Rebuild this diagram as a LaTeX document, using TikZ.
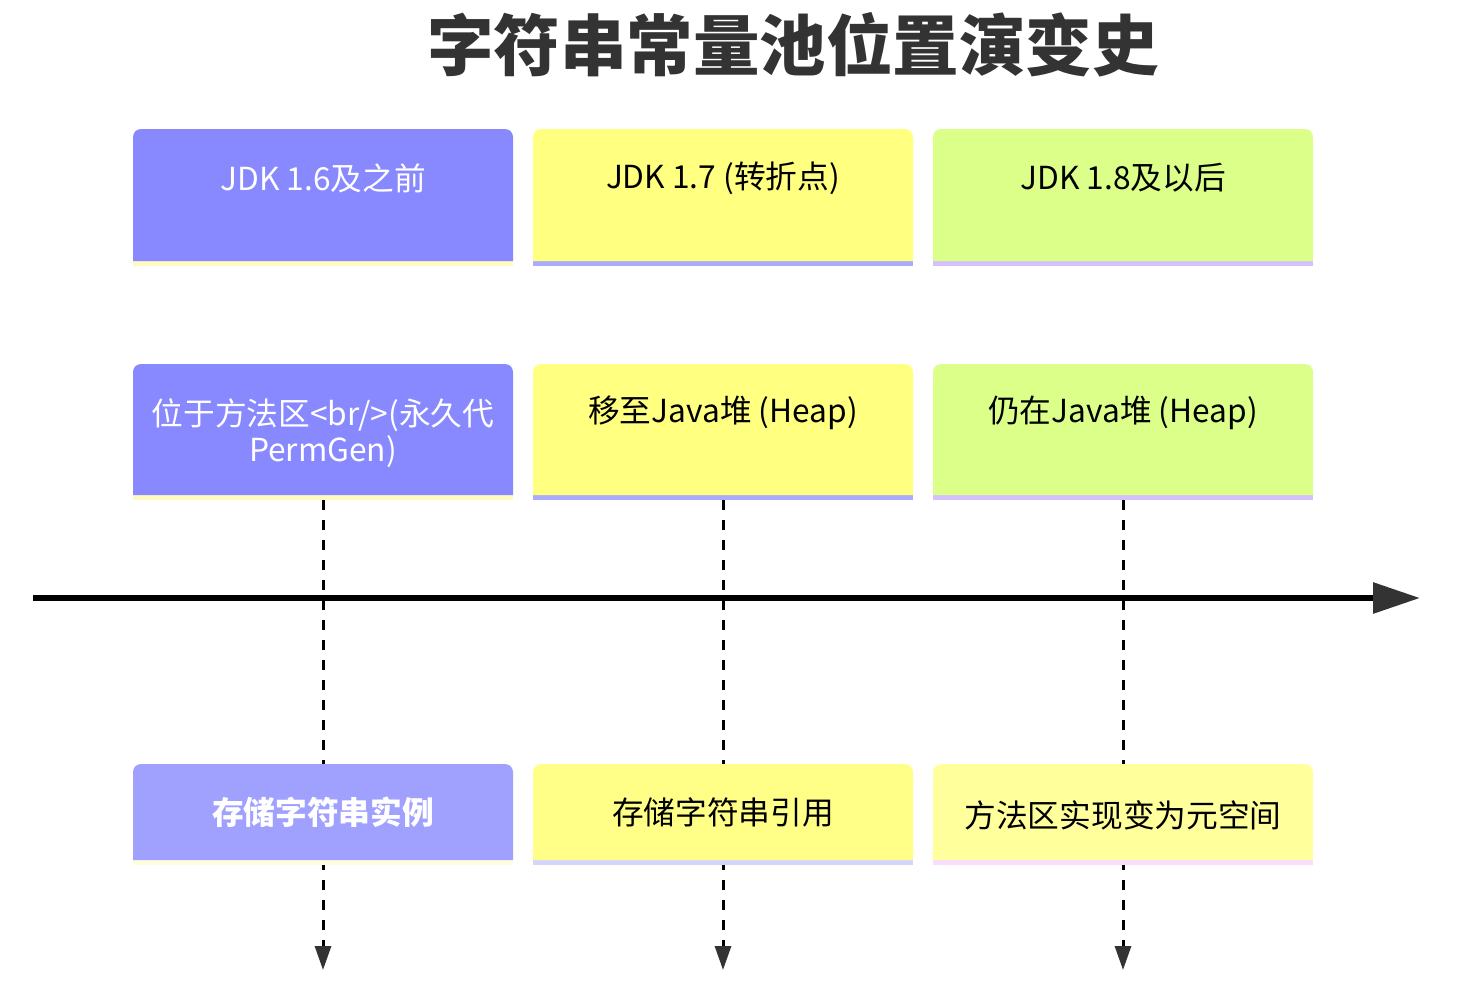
\documentclass[tikz,border=0pt]{standalone}
\usepackage{fontspec}
\setmainfont{Noto Sans CJK SC}
\usetikzlibrary{arrows.meta}
\definecolor{cA}{HTML}{8888FF}\definecolor{sA}{HTML}{FFFBC0}
\definecolor{cB}{HTML}{FFFF80}\definecolor{sB}{HTML}{AAAAFF}
\definecolor{cC}{HTML}{DBFF88}\definecolor{sC}{HTML}{D4BFFF}
\definecolor{cD}{HTML}{A0A0FF}\definecolor{sD}{HTML}{FFFDDD}
\definecolor{cE}{HTML}{FFFF88}\definecolor{sE}{HTML}{D4D4FF}
\definecolor{cF}{HTML}{FFFF9C}\definecolor{sF}{HTML}{F8DDFF}
\definecolor{ink}{HTML}{333333}
\newcommand\mycard[5]{%
 \fill[#5] ({#1-190},{-#3}) rectangle ({#1+190},{-#3-5});
 \fill[#4] ({#1-190},{-#3}) -- ({#1-190},{-#2-8}) arc[start angle=180,end angle=90,radius=8] -- ({#1+182},{-#2}) arc[start angle=90,end angle=0,radius=8] -- ({#1+190},{-#3}) -- cycle;
}
\begin{document}
\begin{tikzpicture}[x=1pt,y=1pt,
  lbl/.style={inner sep=0pt, font=\fontsize{31.7}{36}\selectfont, align=center},
  cardn/.style={inner sep=0pt, minimum width=380pt, minimum height=136pt},
  vline/.style={line width=3pt, dash pattern=on 10pt off 10pt, -{Triangle[length=24pt,width=16pt,fill=ink,color=ink]}},
  tline/.style={line width=6pt, black, -{Triangle[length=47pt,width=30pt,fill=ink,color=ink]}}]
\useasboundingbox (0,0) rectangle (1478,-999);
\node[font=\fontsize{66.5}{72}\selectfont\bfseries, text=ink, inner sep=0pt] (title) at (793,-45) {字符串常量池位置演变史};
% row 1
\mycard{323}{129}{261}{cA}{sA}
\mycard{723}{129}{261}{cB}{sB}
\mycard{1123}{129}{261}{cC}{sC}
\node[lbl, text=white] (h1) at (323,-178) {JDK 1.6及之前};
\node[lbl, text=black] (h2) at (723,-178) {JDK 1.7 (转折点)};
\node[lbl, text=black] (h3) at (1123,-178) {JDK 1.8及以后};
% row 2
\mycard{323}{364}{495}{cA}{sA}
\mycard{723}{364}{495}{cB}{sB}
\mycard{1123}{364}{495}{cC}{sC}
\node[cardn] (p1) at (323,-432) {};
\node[cardn] (p2) at (723,-432) {};
\node[cardn] (p3) at (1123,-432) {};
\node[lbl, text=white] (l1) at (323,-433) {位于方法区<br/>(永久代\\PermGen)};
\node[lbl, text=black] (l2) at (723,-413) {移至Java堆 (Heap)};
\node[lbl, text=black] (l3) at (1123,-413) {仍在Java堆 (Heap)};
% timeline
\coordinate (t0) at (33,-598);
\coordinate (t1) at (1420,-598);
\draw[tline] (t0) -- (t1);
% dashed connectors
\coordinate (e1) at (323,-970);
\coordinate (e2) at (723,-970);
\coordinate (e3) at (1123,-970);
\draw[vline] (p1.south) -- (e1);
\draw[vline] (p2.south) -- (e2);
\draw[vline] (p3.south) -- (e3);
% row 3
\mycard{323}{764}{860}{cD}{sD}
\mycard{723}{764}{860}{cE}{sE}
\mycard{1123}{764}{860}{cF}{sF}
\node[lbl, text=white, font=\fontsize{31.7}{36}\selectfont\bfseries] (n1) at (323,-812) {存储字符串实例};
\node[lbl, text=black] (n2) at (723,-812) {存储字符串引用};
\node[lbl, text=black] (n3) at (1123,-815) {方法区实现变为元空间};
\end{tikzpicture}
\end{document}
